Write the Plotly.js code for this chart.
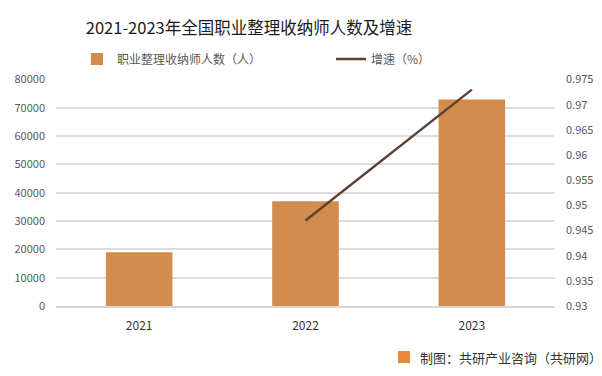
<!DOCTYPE html>
<html><head><meta charset="utf-8">
<script src="https://cdn.plot.ly/plotly-3.0.1.min.js"></script>
<style>html,body{margin:0;padding:0;background:#fff}#chart{width:602px;height:376px}</style>
</head><body><div id="chart"></div>
<script>
const years = ['2021', '2022', '2023'];
const practitioners = [19000, 37000, 73000];
const growthYears = ['2022', '2023'];
const growthRate = [0.947, 0.973];
const leftTicks = [0, 10000, 20000, 30000, 40000, 50000, 60000, 70000, 80000];
const titleText = '2021-2023年全国职业整理收纳师人数及增速';
const barName = '职业整理收纳师人数（人）';
const lineName = '增速（%）';
const sourceText = '制图：共研产业咨询（共研网）';

const FONT = '"Noto Sans CJK SC", "Microsoft YaHei", sans-serif';
const W = 602, H = 376, ML = 56, MR = 47, MT = 79, MB = 70;
const PW = W - ML - MR, PH = H - MT - MB;
const px = x => (x - ML) / PW;
const py = y => (H - MB - y) / PH;
// small headroom so the top (80000 / 0.975) gridline is drawn
const pad = 1.0025;
const y1Range = [0, 80000 * pad];
const y2Range = [0.93, 0.93 + 0.045 * pad];

const data = [
  {type: 'bar', x: years, y: practitioners, name: barName,
   marker: {color: '#d38b4e'}, legend: 'legend', showlegend: true},
  {type: 'scatter', mode: 'lines', x: growthYears, y: growthRate, name: lineName,
   yaxis: 'y2', line: {color: '#5c4232', width: 2.5}, legend: 'legend2', showlegend: true}
];

const layout = {
  width: W, height: H, showlegend: true,
  paper_bgcolor: '#fff', plot_bgcolor: '#fff',
  margin: {l: ML, r: MR, t: MT, b: MB},
  font: {family: FONT, color: '#595959', size: 11},
  title: {text: titleText, x: 249 / W, xanchor: 'center', xref: 'container',
          y: 1 - 28 / H, yanchor: 'middle', yref: 'container',
          font: {family: FONT, size: 16.5, color: '#1a1a1a'}},
  bargap: 0.6,
  xaxis: {type: 'category', showgrid: false, showline: true, linecolor: '#d6d6d6', linewidth: 2,
          ticks: 'outside', ticklen: 8, tickcolor: 'rgba(0,0,0,0)',
          tickfont: {size: 12, color: '#333'}},
  yaxis: {range: y1Range, tickvals: leftTicks, tickformat: 'd', showgrid: true,
          gridcolor: '#dcdcdc', gridwidth: 2, zeroline: false, showline: false,
          ticklabelstandoff: 10,
          tickfont: {size: 11, color: '#595959'}},
  yaxis2: {overlaying: 'y', side: 'right', range: y2Range, dtick: 0.005, tick0: 0.93,
           showgrid: false, zeroline: false, showline: false,
           ticklabelstandoff: 10,
           tickfont: {size: 11, color: '#595959'}},
  legend: {orientation: 'h', x: px(77), y: py(59), yanchor: 'middle', xanchor: 'left',
           font: {size: 12, color: '#595959'}, bgcolor: 'rgba(0,0,0,0)'},
  legend2: {orientation: 'h', x: px(331), y: py(59), yanchor: 'middle', xanchor: 'left',
            font: {size: 12, color: '#595959'}, bgcolor: 'rgba(0,0,0,0)'},
  shapes: [
    {type: 'rect', xref: 'paper', yref: 'paper', x0: px(398), x1: px(410),
     y0: py(363), y1: py(351), fillcolor: '#e8883a', line: {width: 0}, layer: 'above'}
  ],
  annotations: [
    {text: sourceText, xref: 'paper', yref: 'paper', x: px(418), y: py(357),
     xanchor: 'left', yanchor: 'middle', showarrow: false,
     font: {family: FONT, size: 13, color: '#333'}}
  ]
};

Plotly.newPlot('chart', data, layout, {displayModeBar: false, staticPlot: true});
</script></body></html>
